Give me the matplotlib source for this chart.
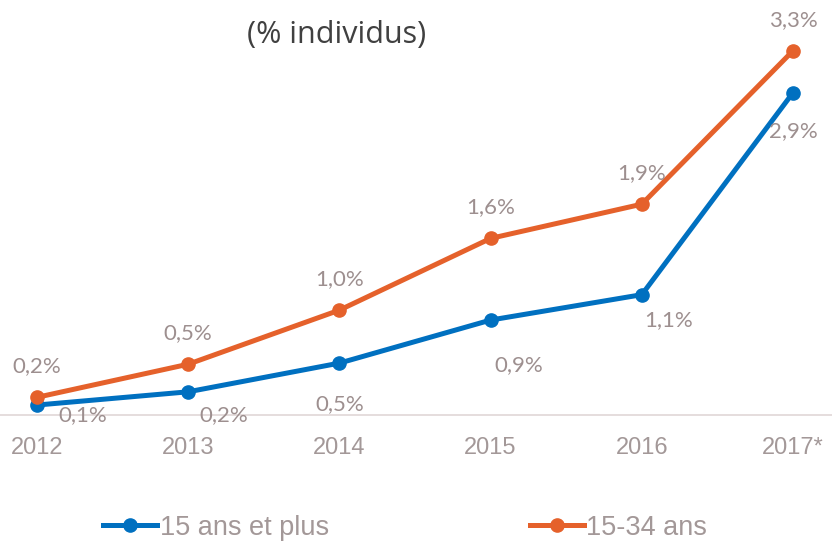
import matplotlib
matplotlib.use("Agg")
import matplotlib.pyplot as plt
from matplotlib.lines import Line2D

years = ["2012", "2013", "2014", "2015", "2016", "2017*"]
tous = [0.09, 0.21, 0.47, 0.86, 1.09, 2.92]        # 15 ans et plus
jeunes = [0.16, 0.46, 0.95, 1.60, 1.91, 3.30]      # 15-34 ans
tous_lab = ["0,1%", "0,2%", "0,5%", "0,9%", "1,1%", "2,9%"]
jeunes_lab = ["0,2%", "0,5%", "1,0%", "1,6%", "1,9%", "3,3%"]

BLUE = "#0070C0"
ORANGE = "#E5612B"
LAB = "#9d8f8f"
TICK = "#a39898"

fig = plt.figure(figsize=(8.32, 5.43), dpi=100)
ax = fig.add_axes([0, 0, 1, 1])
x = list(range(len(years)))

ax.axhline(0, color="#e3dada", lw=1.3, zorder=1)
ax.plot(x, tous, color=BLUE, lw=3.6, marker="o", ms=9.5, zorder=3)
ax.plot(x, jeunes, color=ORANGE, lw=3.6, marker="o", ms=9.5, zorder=3)

# label offsets in pixels (dx, dy), dy positive = downward
off_tous = [(46, 10), (36, 23), (0, 41), (28, 45), (27, 25), (0, 38)]
for i, (v, s) in enumerate(zip(tous, tous_lab)):
    dx, dy = off_tous[i]
    ax.annotate(s, (i, v), xytext=(dx * 0.72, -dy * 0.72), textcoords="offset points",
                ha="center", va="center", color=LAB, fontsize=16, family="Lato")
for i, (v, s) in enumerate(zip(jeunes, jeunes_lab)):
    ax.annotate(s, (i, v), xytext=(0, 31 * 0.72), textcoords="offset points",
                ha="center", va="center", color=LAB, fontsize=16, family="Lato")

for i, y in enumerate(years):
    ax.text(i, -0.295, y, ha="center", va="center", color=TICK, fontsize=17,
            family="Liberation Sans")

ax.set_xlim(-0.245, 5.258)
ax.set_ylim(-1.16, 3.76)
ax.axis("off")

fig.text(0.404, 0.935, "(% individus)", ha="center", va="center", color="#404040",
         fontsize=22, family="Open Sans")

handles = [Line2D([], [], color=BLUE, lw=3.6, marker="o", ms=9.5),
           Line2D([], [], color=ORANGE, lw=3.6, marker="o", ms=9.5)]
leg = fig.legend(handles, ["15 ans et plus", "15-34 ans"], loc="center",
                 bbox_to_anchor=(0.487, 0.028), ncol=2, frameon=False,
                 handlelength=2.0, handletextpad=0.1, columnspacing=7.4,
                 prop={"family": "Liberation Sans", "size": 19.5})
for t in leg.get_texts():
    t.set_color(TICK)

fig.savefig("out.png", dpi=100)
